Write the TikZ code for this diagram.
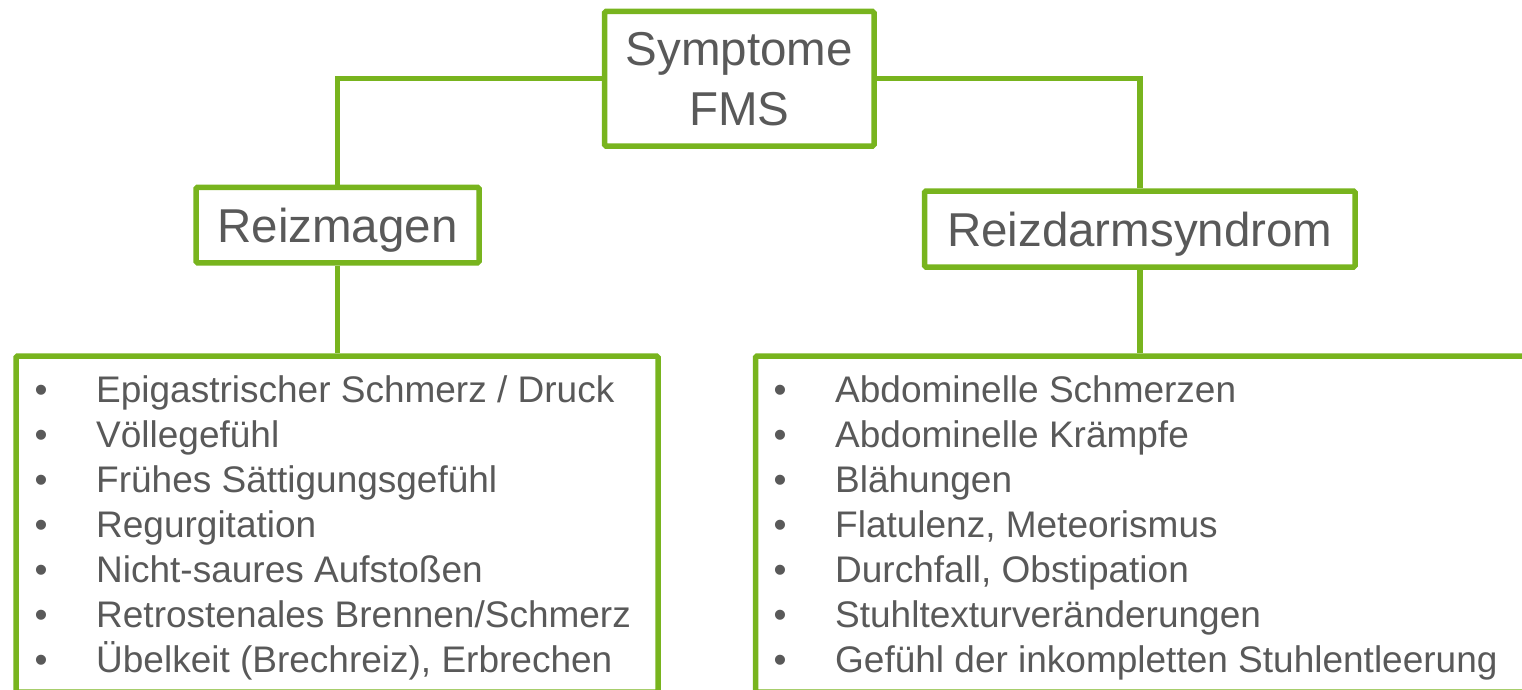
\documentclass[tikz,border=0pt]{standalone}
\usepackage{fontspec}
\setmainfont{Liberation Sans}
\usetikzlibrary{positioning}
\definecolor{fmsgreen}{RGB}{120,180,30}
\definecolor{fmsgray}{RGB}{89,89,89}
\tikzset{
    box/.style={draw=fmsgreen,line width=5.5pt,fill=white,text=fmsgray,inner sep=0pt,rounded corners=1.5pt},
    head/.style={font=\fontsize{47.5}{60}\selectfont,align=center},
    subhead/.style={head,text height=34pt,text depth=0pt},
    link/.style={draw=fmsgreen,line width=5.5pt},
    items/.style={text=fmsgray,inner sep=0pt,anchor=base west,font=\fontsize{37}{45}\selectfont}
}
\newcommand{\itemrow}[1]{\textbullet & #1\\}

\begin{document}
\begin{tikzpicture}[x=1pt,y=-1pt]
\useasboundingbox (0,0) rectangle (1522,690);
% heads
\node[box,head,minimum width=269.5pt,minimum height=134.5pt] (sym) at (739.25,78.75) {Symptome\\FMS};
\node[box,subhead,minimum width=283pt,minimum height=75.5pt] (rm) at (337.5,225) {Reizmagen};
\node[box,subhead,minimum width=430.5pt,minimum height=76pt] (rd) at (1139.75,229) {Reizdarmsyndrom};
% lists
\node[box,minimum width=642pt,minimum height=336pt] (rmlist) at (337,524) {};
\node[box,minimum width=774.5pt,minimum height=336pt] (rdlist) at (1142.75,524) {};
\node[items] (rmitems) at (34.5,402) {\begin{tabular}[t]{@{}p{61.5pt}@{}l@{}}
\itemrow{Epigastrischer Schmerz / Druck}
\itemrow{Völlegefühl}
\itemrow{Frühes Sättigungsgefühl}
\itemrow{Regurgitation}
\itemrow{Nicht-saures Aufstoßen}
\itemrow{Retrostenales Brennen/Schmerz}
\itemrow{Übelkeit (Brechreiz), Erbrechen}
\end{tabular}};
\node[items] (rditems) at (773.5,402) {\begin{tabular}[t]{@{}p{61.5pt}@{}l@{}}
\itemrow{Abdominelle Schmerzen}
\itemrow{Abdominelle Krämpfe}
\itemrow{Blähungen}
\itemrow{Flatulenz, Meteorismus}
\itemrow{Durchfall, Obstipation}
\itemrow{Stuhltexturveränderungen}
\itemrow{Gefühl der inkompletten Stuhlentleerung}
\end{tabular}};
% connectors
\draw[link] (sym.west) -| (rm.north);
\draw[link] (sym.east) -| (rd.north);
\draw[link] (rm.south) -- (rm.south |- rmlist.north);
\draw[link] (rd.south) -- (rd.south |- rdlist.north);
\end{tikzpicture}
\end{document}
